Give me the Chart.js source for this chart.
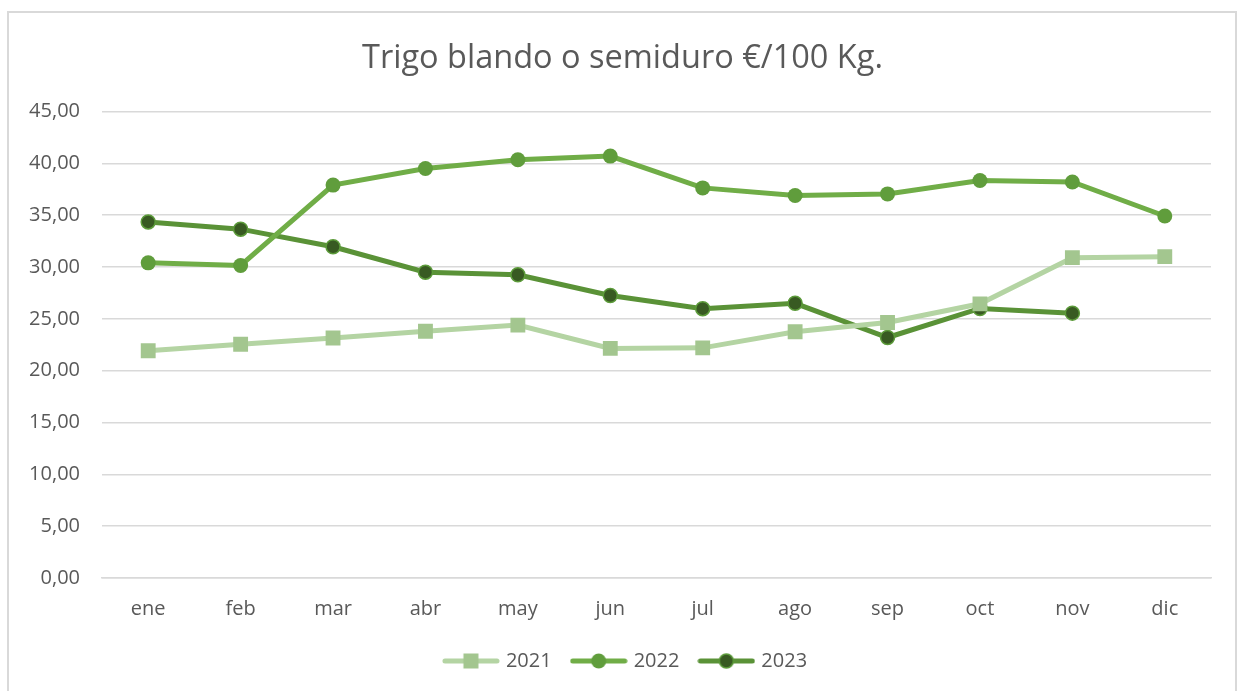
<!DOCTYPE html>
<html>
<head>
<meta charset="utf-8">
<script src="https://cdn.jsdelivr.net/npm/chart.js@4.4.1/dist/chart.umd.min.js"></script>
<style>
  html, body { margin: 0; padding: 0; background: #fff; }
  #wrap { position: relative; width: 1242px; height: 691px; overflow: hidden; }
  #frame { position: absolute; left: 7px; top: 11px; width: 1230px; height: 720px; border: 2px solid #d9d9d9; box-sizing: border-box; pointer-events: none; }
  canvas { position: absolute; left: 0; top: 0; }
</style>
</head>
<body>
<div id="wrap">
  <canvas id="c" width="1242" height="691"></canvas>
  <div id="frame"></div>
</div>
<script>
const titleText = 'Trigo blando o semiduro €/100 Kg.';
const months = ['ene','feb','mar','abr','may','jun','jul','ago','sep','oct','nov','dic'];
const seriesNames = ['2021','2022','2023'];
const values2021 = [21.92, 22.55, 23.15, 23.8, 24.4, 22.15, 22.2, 23.75, 24.65, 26.45, 30.9, 31.0];
const values2022 = [30.4, 30.15, 37.9, 39.5, 40.35, 40.7, 37.63, 36.9, 37.05, 38.35, 38.2, 34.92];
const values2023 = [34.35, 33.65, 31.95, 29.5, 29.25, 27.25, 25.98, 26.5, 23.2, 26.0, 25.55, null];
const yTicks = [0, 5, 10, 15, 20, 25, 30, 35, 40, 45];

const textColor = '#595959';
const fontFamily = '"Open Sans", "DejaVu Sans", sans-serif';

const styles = [
  { line: '#b4d4a3', fill: '#a3c68f', border: '#a3c68f', shape: 'rect', radius: 10.5, bw: 0 },
  { line: '#70ad47', fill: '#609d3c', border: '#609d3c', shape: 'circle', radius: 7.5, bw: 0 },
  { line: '#5a9237', fill: '#385a22', border: '#5c9b3a', shape: 'circle', radius: 7, bw: 1.5 }
];

function legendIcon(s) {
  const cv = document.createElement('canvas');
  cv.width = 58; cv.height = 18;
  const g = cv.getContext('2d');
  g.strokeStyle = s.line; g.lineWidth = 5; g.lineCap = 'round';
  g.beginPath(); g.moveTo(3, 9); g.lineTo(55, 9); g.stroke();
  g.fillStyle = s.fill;
  if (s.shape === 'rect') {
    g.fillRect(29 - 7.5, 9 - 7.5, 15, 15);
  } else {
    g.beginPath(); g.arc(29, 9, s.radius, 0, Math.PI * 2); g.fill();
    if (s.bw) { g.strokeStyle = s.border; g.lineWidth = s.bw; g.stroke(); }
  }
  return cv;
}

const seriesValues = [values2021, values2022, values2023];
const datasets = seriesNames.map((name, i) => ({
  label: name,
  data: seriesValues[i],
  borderColor: styles[i].line,
  backgroundColor: styles[i].fill,
  borderWidth: 5,
  pointStyle: styles[i].shape,
  pointRadius: styles[i].radius,
  pointHoverRadius: styles[i].radius,
  pointBackgroundColor: styles[i].fill,
  pointBorderColor: styles[i].border,
  pointBorderWidth: styles[i].bw,
  tension: 0,
  spanGaps: false,
  legendIcon: legendIcon(styles[i])
}));

const shiftBlocks = {
  id: 'shiftBlocks',
  afterLayout(chart) {
    if (chart.legend) { chart.legend.left += 21; chart.legend.right += 21; }
    if (chart.titleBlock) { chart.titleBlock.left += 17; chart.titleBlock.right += 17; }
  }
};

new Chart(document.getElementById('c'), {
  type: 'line',
  data: { labels: months, datasets: datasets.slice() },
  plugins: [shiftBlocks],
  options: {
    responsive: false,
    animation: false,
    devicePixelRatio: 1,
    layout: { padding: { left: 0, right: 31, top: 39, bottom: 10 } },
    plugins: {
      title: {
        display: true,
        text: titleText,
        color: textColor,
        font: { family: fontFamily, size: 32.5, weight: 'normal' },
        padding: { top: 0, bottom: 33.5 }
      },
      legend: {
        position: 'bottom',
        labels: {
          usePointStyle: true,
          pointStyleWidth: 50,
          color: textColor,
          font: { family: fontFamily, size: 20 },
          padding: 22,
          generateLabels: (chart) => chart.data.datasets.map((ds, i) => ({
            text: ds.label,
            pointStyle: ds.legendIcon,
            fillStyle: ds.backgroundColor,
            strokeStyle: ds.borderColor,
            lineWidth: 0,
            fontColor: textColor,
            datasetIndex: i,
            hidden: false
          }))
        }
      },
      tooltip: { enabled: false }
    },
    scales: {
      x: {
        offset: true,
        grid: { display: false, drawTicks: false, offset: true },
        border: { display: true, color: '#d9d9d9', width: 1.5 },
        ticks: { color: textColor, font: { family: fontFamily, size: 20 }, padding: 19, maxRotation: 0 },
        afterFit: (s) => { s.height = 51; }
      },
      y: {
        min: 0, max: 45,
        afterBuildTicks: (s) => { s.ticks = yTicks.map(v => ({ value: v })); },
        grid: { color: '#d9d9d9', lineWidth: 1.5, drawTicks: false },
        border: { display: false },
        ticks: {
          color: textColor,
          font: { family: fontFamily, size: 20 },
          padding: 22,
          callback: (v) => v.toFixed(2).replace('.', ',')
        },
        afterFit: (s) => { s.width = 102; }
      }
    }
  }
});
</script>
</body>
</html>
